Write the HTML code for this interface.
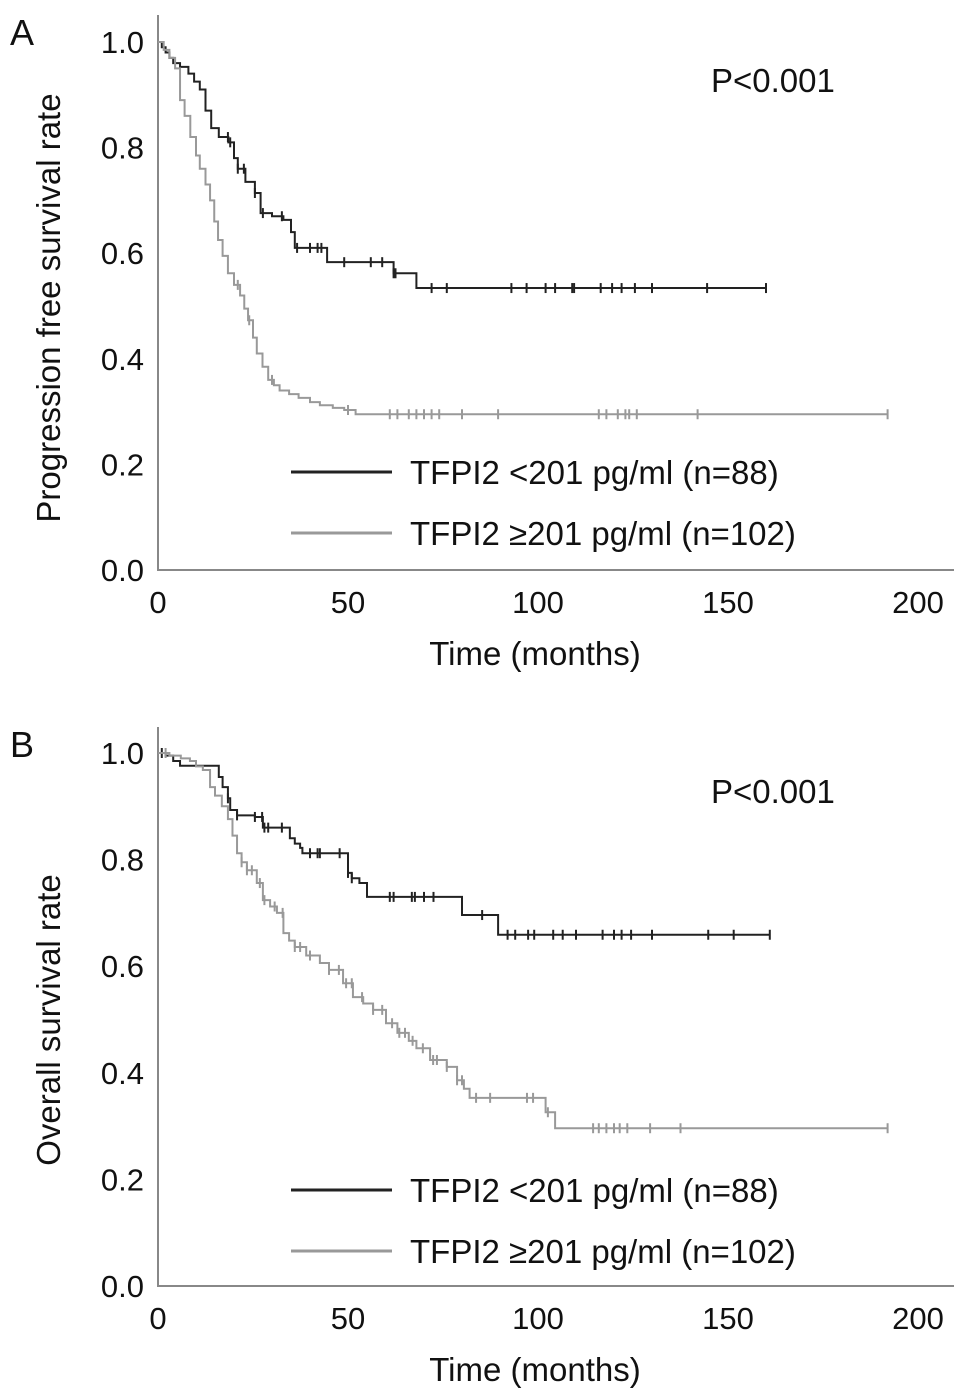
<!DOCTYPE html>
<html><head><meta charset="utf-8"><style>
html,body{margin:0;padding:0;background:#fff;}
svg{display:block;font-family:"Liberation Sans",Arial,sans-serif;}
</style></head><body>
<svg id="fig" width="969" height="1396" viewBox="0 0 969 1396" xmlns="http://www.w3.org/2000/svg"></svg>
<script>
// Panel A: progression-free survival
const pfsLowT = [0,1,2,3,4,5.8,8,9.5,11,12.5,14,16,18.5,20,21,23,25.5,27,30,33,35,36,44.5,62,68,160];
const pfsLowS = [1.0,0.99,0.98,0.97,0.96,0.953,0.94,0.925,0.91,0.87,0.837,0.82,0.81,0.78,0.76,0.735,0.714,0.676,0.67,0.663,0.64,0.61,0.583,0.562,0.534,0.534];
const pfsLowCens = [18.4,19,21,22.6,25.5,27.6,32.6,36.6,40,42,43,49,56,59,62,62.5,72,76,93,97,102,104.5,109,109.5,116.5,119.5,122,125.5,130,144.5,160];
const pfsHighT = [0,1.5,3,4.5,5.8,7,8.5,10,11,12.5,13.7,14.8,15.8,17,18.4,20,21.6,22.7,23.7,25,26,27.5,29,30.5,32,34.5,37,40,42.6,46,49,52,192];
const pfsHighS = [1.0,0.985,0.97,0.95,0.89,0.86,0.82,0.785,0.76,0.73,0.70,0.66,0.625,0.595,0.562,0.54,0.52,0.495,0.473,0.44,0.41,0.385,0.36,0.35,0.34,0.333,0.326,0.318,0.312,0.307,0.303,0.295,0.295];
const pfsHighCens = [21,24,30,50,61,63,66,68,70,72,74,80,89.5,116,118,121,123,124,126,142,192];
// Panel B: overall survival
const osLowT = [0,2,4,5.8,15,16,17,18.4,19,20.8,25.5,27.6,34.7,36,37.4,38,50,51,53,55,80,89.5,161];
const osLowS = [1.0,0.995,0.985,0.976,0.976,0.955,0.936,0.915,0.893,0.883,0.88,0.86,0.84,0.83,0.822,0.812,0.775,0.765,0.756,0.73,0.696,0.659,0.659];
const osLowCens = [1,18.4,20.8,25.5,27.4,28,29,32.6,40,42,42.6,47.8,50,51,61,62,66.8,67.6,70,72.5,85.3,92,94,97.4,99,104,106.5,110,117,120,122,124.5,130,144.8,151.5,161];
const osHighT = [0,3,6,8.4,10,11.8,13.7,15,16.8,18.4,19.6,20.8,22,23.4,26,27.6,29.5,31.3,33,34.5,36,39,42.6,45,48.7,51.3,54,56.6,60,63,66,68,71.6,76,78.7,80.5,82,100.5,102,104.5,192];
const osHighS = [1.0,0.995,0.99,0.985,0.975,0.968,0.936,0.92,0.9,0.876,0.845,0.812,0.795,0.78,0.756,0.724,0.712,0.70,0.662,0.648,0.636,0.62,0.606,0.593,0.568,0.542,0.53,0.518,0.493,0.475,0.46,0.446,0.424,0.411,0.386,0.37,0.353,0.353,0.326,0.296,0.296];
const osHighCens = [2,22,23.4,24.7,26.8,28,30.7,32.8,36,37.4,40,45,47.6,49.5,51,53.7,56.6,59,61.6,63.5,65,67,69.7,72.4,73.4,76,78.7,80,83.7,87.4,97.1,98.7,102.6,114.5,116,118,120,121.5,123.5,129.5,137.5,192];
const xTicks = [0,50,100,150,200];
const yTicks = [0.0,0.2,0.4,0.6,0.8,1.0];

const NS = "http://www.w3.org/2000/svg";
const svg = document.getElementById('fig');
function mk(tag, attrs, parent){
  const e = document.createElementNS(NS, tag);
  for (const k in attrs) e.setAttribute(k, attrs[k]);
  (parent||svg).appendChild(e);
  return e;
}
function panel(p){
  const g = mk('g', {});
  
  
  const x0 = 158, x1 = 918;
  const X = t => x0 + (t/200)*(x1-x0);
  const Y = s => p.yZero - s*(p.yZero - p.yOne);
  const ax = mk('path', {d:`M${x0},${p.axisTop} V${p.yZero} H954`, stroke:'#888', 'stroke-width':2, fill:'none'}, g);
  
  
  xTicks.forEach(v=>{
    const t = mk('text', {x:X(v), y:p.yZero+43, 'text-anchor':'middle', 'font-size':31, fill:'#111'}, g);
    t.textContent = v;
    
    
  });
  yTicks.forEach(v=>{
    const t = mk('text', {x:144, y:Y(v)+11, 'text-anchor':'end', 'font-size':31, fill:'#111'}, g);
    t.textContent = v.toFixed(1);
    
    
  });
  const xt = mk('text', {x:535, y:p.yZero+95, 'text-anchor':'middle', 'font-size':33, fill:'#111'}, g);
  xt.textContent = 'Time (months)';
  
  
  const yc = p.yTitleC;
  const yt = mk('text', {x:60, y:yc, 'text-anchor':'middle', 'font-size':33, fill:'#111', transform:`rotate(-90 60 ${yc})`}, g);
  yt.textContent = p.ylabel;
  
  
  const pl = mk('text', {x:10, y:p.axisTop+30, 'font-size':36, fill:'#111'}, g);
  pl.textContent = p.letter;
  
  
  const pv = mk('text', {x:711, y:p.yOne+50, 'font-size':33, fill:'#111'}, g);
  pv.textContent = 'P<0.001';
  
  
  p.series.forEach(s=>{
    let d = `M${X(s.t[0])},${Y(s.s[0])}`;
    for (let i=1;i<s.t.length;i++){ d += ` H${X(s.t[i])} V${Y(s.s[i])}`; }
    const path = mk('path', {d, stroke:s.color, 'stroke-width':2, fill:'none'}, g);
    
    
    s.c.forEach(ct=>{
      let v = s.s[0];
      for (let i=0;i<s.t.length;i++){ if (s.t[i] <= ct) v = s.s[i]; }
      const cx = X(ct), cy = Y(v);
      const m = mk('path', {d:`M${cx},${cy-5} V${cy+5}`, stroke:s.color, 'stroke-width':2}, g);
      
      
    });
  });
  p.series.forEach((s,i)=>{
    const ly = p.legY + i*61;
    const ln = mk('line', {x1:291, x2:392, y1:ly, y2:ly, stroke:s.color, 'stroke-width':3}, g);
    
    
    const lt = mk('text', {x:410, y:ly+12, 'font-size':33, fill:'#111'}, g);
    lt.textContent = s.label;
    
    
  });
}
panel({name:'panel-a-pfs', letter:'A', ylabel:'Progression free survival rate', axisTop:15, yOne:42, yZero:570, legY:472, yTitleC:308,
  series:[
    {name:'tfpi2-low', t:pfsLowT, s:pfsLowS, c:pfsLowCens, color:'#222', label:'TFPI2 <201 pg/ml (n=88)'},
    {name:'tfpi2-high', t:pfsHighT, s:pfsHighS, c:pfsHighCens, color:'#999', label:'TFPI2 \u2265201 pg/ml (n=102)'}
  ]});
panel({name:'panel-b-os', letter:'B', ylabel:'Overall survival rate', axisTop:727, yOne:753, yZero:1286, legY:1190, yTitleC:1020,
  series:[
    {name:'tfpi2-low', t:osLowT, s:osLowS, c:osLowCens, color:'#222', label:'TFPI2 <201 pg/ml (n=88)'},
    {name:'tfpi2-high', t:osHighT, s:osHighS, c:osHighCens, color:'#999', label:'TFPI2 \u2265201 pg/ml (n=102)'}
  ]});
</script>
</body></html>
